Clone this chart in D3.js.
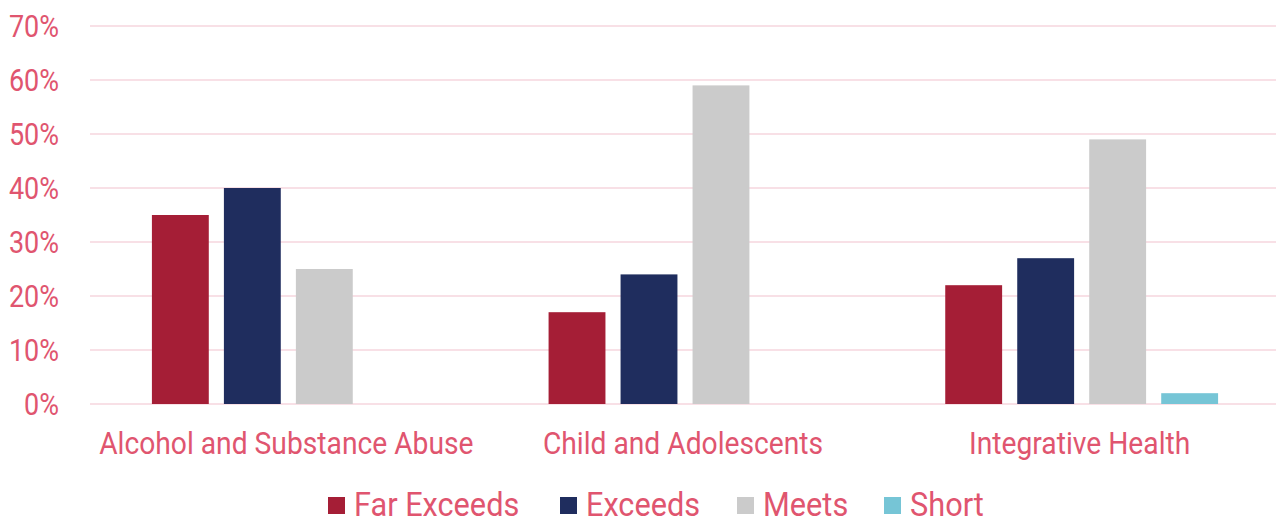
<!DOCTYPE html>
<html><head><meta charset="utf-8">
<script src="https://cdn.jsdelivr.net/npm/d3@7"></script>
<style>body{margin:0;background:#fff}svg{display:block}text{font-family:Roboto,sans-serif}</style>
</head><body><svg id="c" width="1276" height="519"></svg>
<script>
const categories = ["Alcohol and Substance Abuse","Child and Adolescents","Integrative Health"];
const seriesNames = ["Far Exceeds","Exceeds","Meets","Short"];
const farExceeds = [0.35,0.17,0.22];
const exceeds = [0.40,0.24,0.27];
const meets = [0.25,0.59,0.49];
const shortV = [0,0,0.02];
const yTicks = [0,0.1,0.2,0.3,0.4,0.5,0.6,0.7];
const colors = ["#A51E36","#1F2D5E","#CBCBCB","#76C5D6"];
const textColor = "#E0556F";
const gridColor = "#F6D6DE";
const values = [farExceeds, exceeds, meets, shortV];

const svg = d3.select("#c");
const x0 = d3.scaleBand().domain(categories).range([90,1280]);
const x1 = d3.scaleBand().domain(seriesNames).range([0,x0.bandwidth()]).paddingInner(0.21).paddingOuter(0.86);
const y = d3.scaleLinear().domain([0,0.7]).range([404,26]);

function squeeze(k){
  return sel => sel.each(function(){ const w=this.getComputedTextLength(); d3.select(this).attr("textLength", w*k).attr("lengthAdjust","spacingAndGlyphs"); });
}

// grid
svg.append("g").selectAll("line").data(yTicks).join("line")
  .attr("x1",90).attr("x2",1276).attr("y1",d=>y(d)).attr("y2",d=>y(d))
  .attr("stroke",gridColor).attr("stroke-width",1.5);

// y axis labels
const yAxis = d3.axisLeft(y).tickValues(yTicks).tickFormat(d3.format(".0%")).tickSize(0).tickPadding(0);
const ya = svg.append("g").attr("transform","translate(59,0)").call(yAxis);
ya.select(".domain").remove();
ya.selectAll("text").attr("fill",textColor).attr("font-size",31).attr("dy","0.35em").call(squeeze(0.87));

// bars
const rows = categories.map((c,i)=>({cat:c, vals: seriesNames.map((s,j)=>({s, v: values[j][i], color: colors[j]}))}));
const g = svg.append("g").selectAll("g").data(rows).join("g").attr("transform",d=>`translate(${x0(d.cat)},0)`);
g.selectAll("rect").data(d=>d.vals.filter(v=>v.v>0)).join("rect")
  .attr("x",d=>x1(d.s)).attr("width",x1.bandwidth())
  .attr("y",d=>y(d.v)).attr("height",d=>y(0)-y(d.v)).attr("fill",d=>d.color);

// x axis labels
const xAxis = d3.axisBottom(x0).tickSize(0).tickPadding(0);
const xa = svg.append("g").attr("transform","translate(-2,454)").call(xAxis);
xa.select(".domain").remove();
xa.selectAll("text").attr("fill",textColor).attr("font-size",31).attr("dy",0).call(squeeze(0.91));

// legend
const legendX = [328,560,737,884];
const lg = svg.append("g").selectAll("g").data(seriesNames).join("g").attr("transform",(d,i)=>`translate(${legendX[i]},0)`);
lg.append("rect").attr("x",0).attr("y",497).attr("width",17).attr("height",17).attr("fill",(d,i)=>colors[i]);
lg.append("text").attr("x",26).attr("y",516).attr("fill",textColor).attr("font-size",33).text(d=>d).call(squeeze(0.93));
</script></body></html>
